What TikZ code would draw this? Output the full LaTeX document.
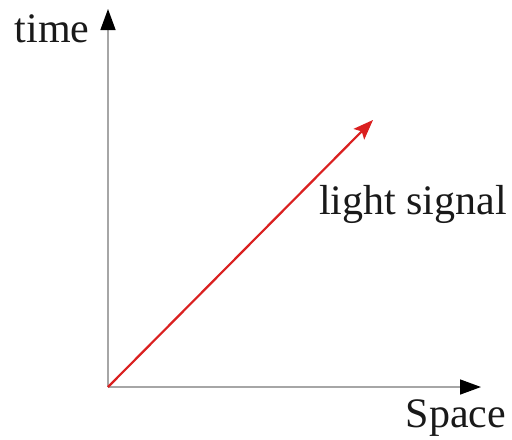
\documentclass[tikz,border=0pt]{standalone}
\usepackage{fontspec}
\setmainfont{Liberation Serif}
\usetikzlibrary{arrows.meta,positioning}
\definecolor{signalred}{RGB}{218,32,32}
\tikzset{
    myaxis/.style={line width=0.75pt,draw=black!35,-{Triangle[length=10.5pt,width=7.5pt,black]}},
    mysignal/.style={line width=1.1pt,draw=signalred,-{Stealth[length=10pt,width=7.5pt,inset=2pt]}},
    every node/.style={font=\fontsize{21}{25}\selectfont,text=black!90,inner sep=0pt}
}
\begin{document}
\begin{tikzpicture}[x=0.5pt,y=-0.5pt]
  \useasboundingbox (0,0) rectangle (512,439);
  \coordinate (O) at (108,387);
  \coordinate (T) at (108,9);
  \coordinate (X) at (481,387);
  \coordinate (L) at (373,120);
  \draw[myaxis] (O)--(T);
  \draw[myaxis] (O)--(X);
  \draw[mysignal] (O)--(L);
  \node[anchor=base] (time) at (52,42) {time};
  \node[anchor=base] (signal) at (413,214) {light signal};
  \node[anchor=base] (space) at (456,427) {Space};
\end{tikzpicture}
\end{document}
